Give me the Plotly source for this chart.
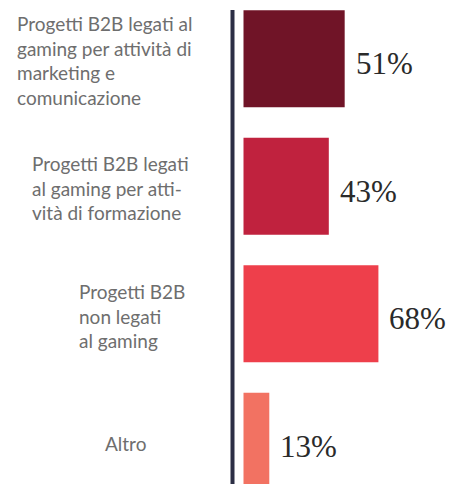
import plotly.graph_objects as go

categories = [
    "Progetti B2B legati al<br>gaming per attività di<br>marketing e<br>comunicazione",
    "Progetti B2B legati<br>al gaming per atti-<br>vità di formazione",
    "Progetti B2B<br>non legati<br>al gaming",
    "Altro",
]
values = [51, 43, 68, 13]
value_labels = ["51%", "43%", "68%", "13%"]
bar_colors = ["#701427", "#c0223e", "#ee3f4b", "#f27262"]

W, H = 454, 484
# layout constants (pixels)
X0_PX = 243.5        # where the bars start
PX_PER_UNIT = 1.984  # horizontal scale
ROW0_PX = 58.8       # centre of first bar
ROW_PITCH = 127.5    # distance between bar centres
LABEL_LEFT_PX = [15, 30, 77, 103]

x_range = [-X0_PX / PX_PER_UNIT, (W - X0_PX) / PX_PER_UNIT]
y_range = [(H - ROW0_PX) / ROW_PITCH, -ROW0_PX / ROW_PITCH]

ypos = list(range(len(categories)))

fig = go.Figure()
fig.add_trace(go.Bar(
    x=values,
    y=ypos,
    orientation="h",
    marker=dict(color=bar_colors, line=dict(width=0)),
    hoverinfo="skip",
))

annotations = []
for i, (v, lab) in enumerate(zip(values, value_labels)):
    annotations.append(dict(
        x=v, y=i, xref="x", yref="y", text=lab, showarrow=False,
        xanchor="left", yanchor="middle", xshift=9, yshift=-5,
        font=dict(family="Liberation Serif, serif", size=31, color="#2a2a2a"),
    ))
for i, cat in enumerate(categories):
    annotations.append(dict(
        x=LABEL_LEFT_PX[i] / W, y=i, xref="paper", yref="y", text=cat,
        showarrow=False, xanchor="left", yanchor="middle", align="left",
        yshift=-2,
        font=dict(family="Lato, sans-serif", size=19, color="#6e6e6e"),
    ))

fig.update_layout(
    width=W, height=H,
    margin=dict(l=0, r=0, t=0, b=0),
    paper_bgcolor="white", plot_bgcolor="white",
    bargap=0.24,
    showlegend=False,
    xaxis=dict(range=x_range, visible=False, fixedrange=True),
    yaxis=dict(range=y_range, visible=False, fixedrange=True),
    annotations=annotations,
    shapes=[dict(
        type="line", xref="paper", yref="paper",
        x0=232.5 / W, x1=232.5 / W, y0=1 - 10 / H, y1=0,
        line=dict(color="#2c2e45", width=4),
    )],
)

fig.write_html(
    "out.html",
    config={"displayModeBar": False},
    post_script="document.body.style.margin='0';document.body.style.overflow='hidden';",
)
